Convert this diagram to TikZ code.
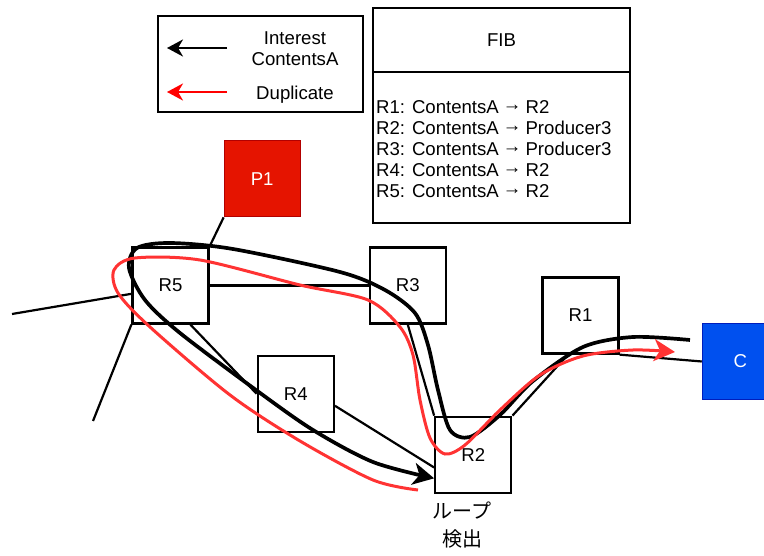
\documentclass[tikz,border=0pt]{standalone}
\usepackage{fontspec}
\setmainfont{Liberation Sans}
\newfontfamily\jpfont{Noto Sans CJK JP}
\usetikzlibrary{arrows.meta,positioning}

\definecolor{prodred}{HTML}{E51400}
\definecolor{prodline}{HTML}{B20000}
\definecolor{consblue}{HTML}{0050EF}
\definecolor{consline}{HTML}{001DBC}
\definecolor{dupred}{HTML}{FF3333}

\newcommand\fibto{\kern-0.06em\raisebox{0.2em}{→}\kern-0.06em}

\begin{document}
\begin{tikzpicture}[
  x=1pt, y=-1pt,
  font=\fontsize{18.6}{21}\selectfont,
  router/.style={draw, line width=2.3pt, minimum width=76pt, minimum height=76pt,
                 inner sep=0pt},
  prod/.style={router, line width=1pt, fill=prodred, draw=prodline, text=white},
  cons/.style={router, line width=1pt, fill=consblue, draw=consline, text=white},
  link/.style={line width=2.2pt},
  frame/.style={draw, line width=2pt, inner sep=0pt},
  interest/.style={line width=3.7pt,
                   -{Stealth[length=21pt, width=22pt, inset=6pt]}},
  dup/.style={line width=3pt, draw=dupred,
              -{Stealth[length=21pt, width=22pt, inset=6pt]}},
  lgarrow/.style={line width=2.5pt,
                  -{Stealth[length=16pt, width=17pt, inset=5pt]}}]
  \useasboundingbox (0,0) rectangle (764,556);

  % legend
  \node[frame, minimum width=205pt, minimum height=96pt] (legend) at (260.5,64) {};
  \node[align=center] (lgint) at (295,49) {Interest\\ContentsA};
  \node (lgdup) at (295,95) {Duplicate};
  \coordinate (lgia) at (227,48);
  \coordinate (lgib) at (167,48);
  \coordinate (lgda) at (227,92);
  \coordinate (lgdb) at (167,92);
  \draw[lgarrow] (lgia) -- (lgib);
  \draw[lgarrow, red] (lgda) -- (lgdb);

  % FIB table
  \node[frame, minimum width=257pt, minimum height=64pt, anchor=north] (fibhead)
    at (501.5,7) {FIB};
  \node[frame, minimum width=257pt, minimum height=151pt, below=-2pt of fibhead]
    (fibbody) {};
  \node[anchor=west, align=left, inner sep=0pt] (fibtext)
    at ([xshift=4pt, yshift=-2pt]fibbody.west)
    {R1: ContentsA \fibto{} R2\\R2: ContentsA \fibto{} Producer3\\
     R3: ContentsA \fibto{} Producer3\\R4: ContentsA \fibto{} R2\\
     R5: ContentsA \fibto{} R2};

  % routers, producer, consumer
  \node[router] (R5) at (170.5,285.5) {R5};
  \node[router, right=159pt of R5] (R3) {R3};
  \node[prod, above right=29pt and 14pt of R5] (P1) {P1};
  \node[router, below right=30pt and 47pt of R5] (R4) {R4};
  \node[router, below=91pt of R3, xshift=65.5pt] (R2) {R2};
  \node[router, above right=61pt and 29pt of R2] (R1) {R1};
  \node[cons, right=82pt of R1, yshift=-46pt] (C) {C};
  \node[below=4pt of R2, xshift=-11pt, align=center,
        font=\jpfont\fontsize{20}{28}\selectfont] (loop) {ループ\\検出};

  % links
  \coordinate (west1) at (12,314);
  \coordinate (west2) at (93,421);
  \draw[link] (R5.north east) -- (P1.south west);
  \draw[link] (R5) -- (R3);
  \draw[link] (west1) -- (R5.192);
  \draw[link] (R5.south west) -- (west2);
  \draw[link] (R5.297) -- (R4.west);
  \draw[link] (R4.-17) -- (R2.198);
  \draw[link] (R3.south) -- (R2.north west);
  \draw[link] (R2.north east) -- (R1.252);
  \draw[link] (R1.south east) -- (C.west);

  % interest and duplicate paths
  \coordinate (intstart) at (690,340);
  \coordinate (dupstart) at (418,490);
  \coordinate (dupend) at (675,352);
  \draw[interest] plot[smooth] coordinates {(intstart) (633,337) (583,347)
    (533,381) (500,415) (470,437) (450,430) (438,390) (428,345) (415,313)
    (385,290) (340,272) (233,249) (170,243) (137,248) (129,268) (145,300)
    (180,333) (256,390) (313,430) (373,462) (R2.211)};
  \draw[dup] plot[smooth] coordinates {(dupstart) (373,480) (300,441)
    (230,395) (150,327) (118,293) (114,270) (135,258) (200,260) (300,285)
    (368,300) (400,327) (413,355) (420,400) (430,438) (445,454) (465,445)
    (500,410) (540,375) (583,356) (633,350) (dupend)};
\end{tikzpicture}
\end{document}
